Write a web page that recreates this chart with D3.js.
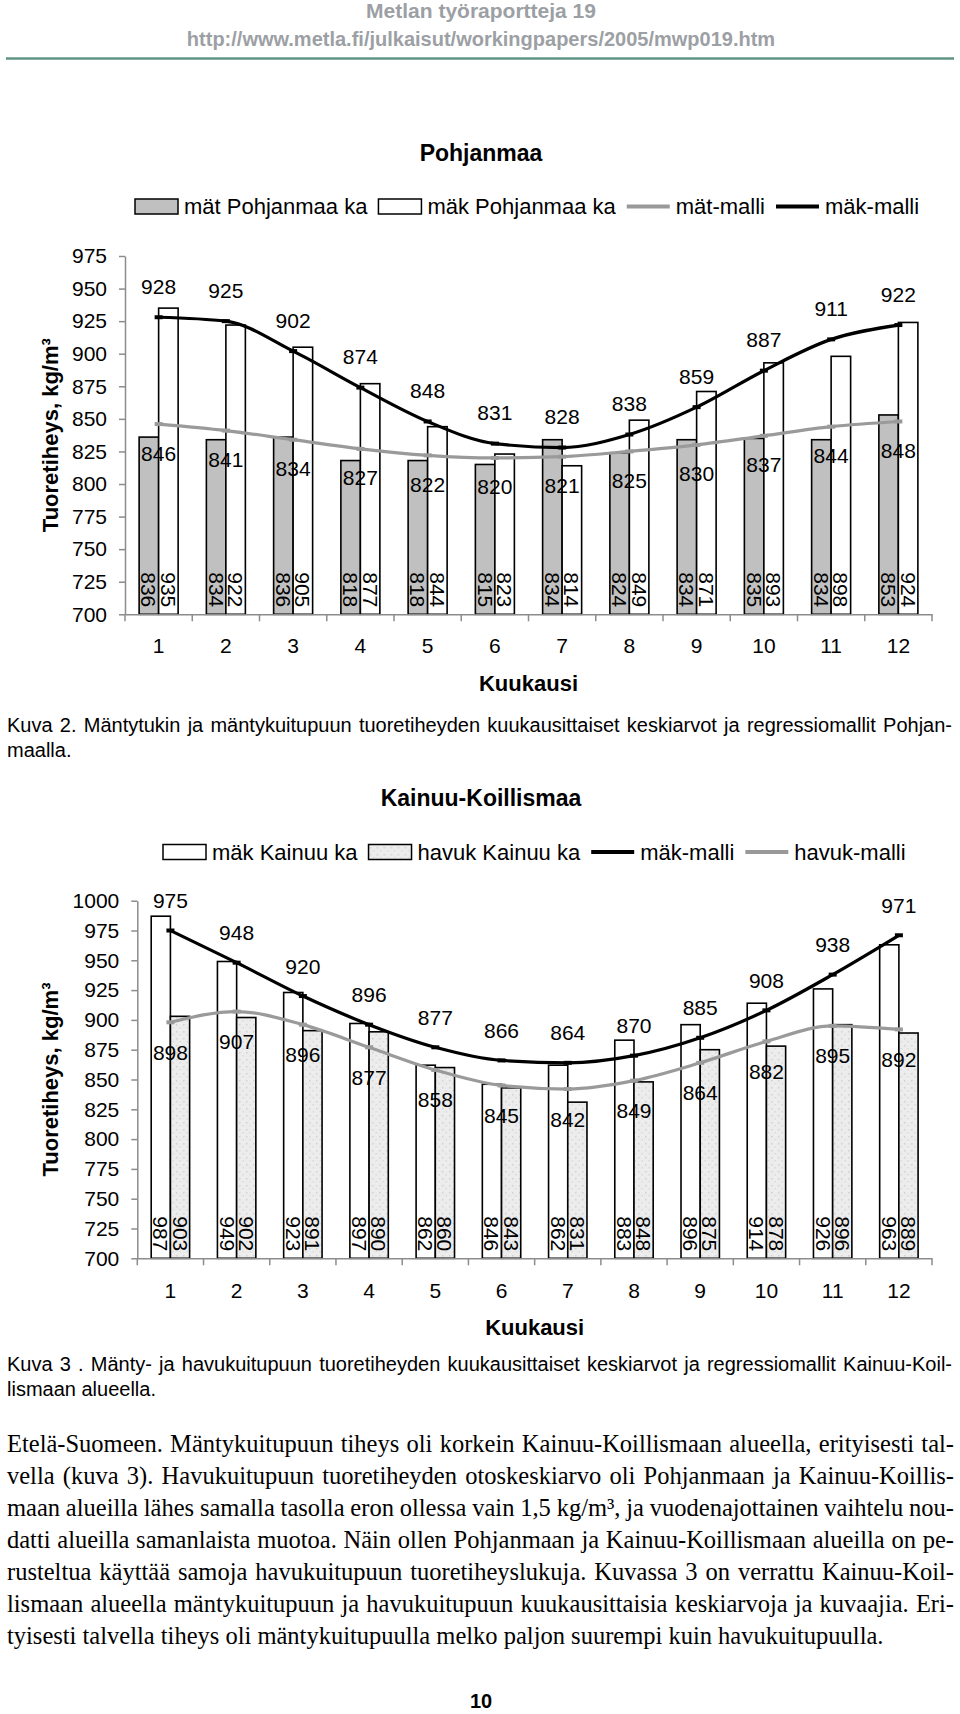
<!DOCTYPE html>
<html>
<head>
<meta charset="utf-8">
<script src="https://cdn.jsdelivr.net/npm/d3@7"></script>
<style>
  body { margin: 0; background: #fff; }
  svg text { font-family: 'Liberation Sans', Arial, sans-serif; }
</style>
</head>
<body>
<svg id="page" width="960" height="1714"></svg>
<script>
// data

let months = [1, 2, 3, 4, 5, 6, 7, 8, 9, 10, 11, 12]

// Pohjanmaa
let pohjMat = [836, 834, 836, 818, 818, 815, 834, 824, 834, 835, 834, 853]
let pohjMak = [935, 922, 905, 877, 844, 823, 814, 849, 871, 893, 898, 924]
let pohjMatModel = [846, 841, 834, 827, 822, 820, 821, 825, 830, 837, 844, 848]
let pohjMakModel = [928, 925, 902, 874, 848, 831, 828, 838, 859, 887, 911, 922]
let pohjTicks = [700, 725, 750, 775, 800, 825, 850, 875, 900, 925, 950, 975]

// Kainuu-Koillismaa
let kainMak = [987, 949, 923, 897, 862, 846, 862, 883, 896, 914, 926, 963]
let kainHavuk = [903, 902, 891, 890, 860, 843, 831, 848, 875, 878, 896, 889]
let kainMakModel = [975, 948, 920, 896, 877, 866, 864, 870, 885, 908, 938, 971]
let kainHavukModel = [898, 907, 896, 877, 858, 845, 842, 849, 864, 882, 895, 892]
let kainTicks = [700, 725, 750, 775, 800, 825, 850, 875, 900, 925, 950, 975, 1000]

let caption2 = [
  'Kuva 2. Mäntytukin ja mäntykuitupuun tuoretiheyden kuukausittaiset keskiarvot ja regressiomallit Pohjan-',
  'maalla.'
]
let caption3 = [
  'Kuva 3 . Mänty- ja havukuitupuun tuoretiheyden kuukausittaiset keskiarvot ja regressiomallit Kainuu-Koil-',
  'lismaan alueella.'
]
let bodyLines = [
  'Etelä-Suomeen. Mäntykuitupuun tiheys oli korkein Kainuu-Koillismaan alueella, erityisesti tal-',
  'vella (kuva 3). Havukuitupuun tuoretiheyden otoskeskiarvo oli Pohjanmaan ja Kainuu-Koillis-',
  'maan alueilla lähes samalla tasolla eron ollessa vain 1,5 kg/m³, ja vuodenajottainen vaihtelu nou-',
  'datti alueilla samanlaista muotoa. Näin ollen Pohjanmaan ja Kainuu-Koillismaan alueilla on pe-',
  'rusteltua käyttää samoja havukuitupuun tuoretiheyslukuja. Kuvassa 3 on verrattu Kainuu-Koil-',
  'lismaan alueella mäntykuitupuun ja havukuitupuun kuukausittaisia keskiarvoja ja kuvaajia. Eri-',
  'tyisesti talvella tiheys oli mäntykuitupuulla melko paljon suurempi kuin havukuitupuulla.'
]

let svg = d3.select('#page')

// stipple fill for havuk bars
let pat = svg
  .append('defs')
  .append('pattern')
  .attr('id', 'stipple')
  .attr('width', 7)
  .attr('height', 7)
  .attr('patternUnits', 'userSpaceOnUse')
pat.append('rect').attr('width', 7).attr('height', 7).attr('fill', '#ececec')
pat.append('rect').attr('x', 1).attr('y', 2).attr('width', 1.5).attr('height', 1.5).attr('fill', '#d2d2d2')
pat.append('rect').attr('x', 4.5).attr('y', 5).attr('width', 1.5).attr('height', 1.5).attr('fill', '#dadada')
pat.append('rect').attr('x', 5).attr('y', 0.5).attr('width', 1).attr('height', 1).attr('fill', '#f8f8f8')

// page header

svg
  .append('text')
  .attr('x', 481)
  .attr('y', 18)
  .attr('text-anchor', 'middle')
  .attr('font-size', 21)
  .attr('font-weight', 'bold')
  .attr('fill', '#9ca0a4')
  .text('Metlan työraportteja 19')

svg
  .append('text')
  .attr('x', 481)
  .attr('y', 46)
  .attr('text-anchor', 'middle')
  .attr('font-size', 20)
  .attr('font-weight', 'bold')
  .attr('fill', '#9ca0a4')
  .text('http://www.metla.fi/julkaisut/workingpapers/2005/mwp019.htm')

svg
  .append('line')
  .attr('x1', 6)
  .attr('x2', 954)
  .attr('y1', 58.5)
  .attr('y2', 58.5)
  .attr('stroke', '#5f9484')
  .attr('stroke-width', 2.5)

function drawChart(cfg) {
  let g = svg.append('g')

  let x = d3
    .scaleBand()
    .domain(months)
    .range([cfg.left, cfg.right])

  let y = d3
    .scaleLinear()
    .domain([700, cfg.max])
    .range([cfg.bottom, cfg.top])

  let pairW = x.bandwidth() * 0.58
  let inner = d3
    .scaleBand()
    .domain([0, 1])
    .range([0, pairW])

  let cx = m => x(m) + x.bandwidth() / 2

  // title + legend
  g.append('text')
    .attr('x', 481)
    .attr('y', cfg.titleY)
    .attr('text-anchor', 'middle')
    .attr('dominant-baseline', 'central')
    .attr('font-size', 23)
    .attr('font-weight', 'bold')
    .text(cfg.title)

  let lx = cfg.legendX
  cfg.legend.forEach(item => {
    let lg = g.append('g').attr('transform', `translate(${lx},${cfg.legendY})`)
    if (item.type === 'rect') {
      lg.append('rect')
        .attr('x', 0)
        .attr('y', -7.5)
        .attr('width', 43)
        .attr('height', 15)
        .attr('fill', item.fill)
        .attr('stroke', '#000')
        .attr('stroke-width', 1.5)
    } else {
      lg.append('line')
        .attr('x1', 0)
        .attr('x2', 43)
        .attr('stroke', item.color)
        .attr('stroke-width', 4)
    }
    let t = lg
      .append('text')
      .attr('x', 49)
      .attr('dominant-baseline', 'central')
      .attr('font-size', 22)
      .text(item.label)
    lx += 49 + t.node().getComputedTextLength() + 11
  })

  // bars
  cfg.bars.forEach((series, si) => {
    let bars = g
      .selectAll('.bar-' + si)
      .data(series.values)
      .enter()
      .append('g')

    bars
      .append('rect')
      .attr('x', (d, i) => cx(months[i]) - pairW / 2 + inner(si))
      .attr('y', d => y(d))
      .attr('width', inner.bandwidth())
      .attr('height', d => cfg.bottom - y(d))
      .attr('fill', series.fill)
      .attr('stroke', '#000')
      .attr('stroke-width', 1.6)

    bars
      .append('text')
      .attr('transform', (d, i) => {
        let bx = cx(months[i]) - pairW / 2 + inner(si) + inner.bandwidth() / 2
        return `translate(${bx},${cfg.bottom - 7}) rotate(90)`
      })
      .attr('text-anchor', 'end')
      .attr('dominant-baseline', 'central')
      .attr('font-size', 21)
      .text(d => d)
  })

  // axes
  let yAxis = g
    .append('g')
    .attr('transform', `translate(${cfg.left},0)`)
    .call(
      d3
        .axisLeft(y)
        .tickValues(cfg.ticks)
        .tickFormat(d3.format('d'))
        .tickSize(6)
        .tickPadding(12)
        .tickSizeOuter(0)
    )
  yAxis.select('.domain').attr('stroke', '#8c8c8c').attr('stroke-width', 1.5)
  yAxis.selectAll('.tick line').attr('stroke', '#8c8c8c').attr('stroke-width', 1.5)
  yAxis
    .selectAll('.tick text')
    .attr('font-size', 21)
    .attr('font-family', null)
    .attr('fill', '#000')

  let xAxis = g
    .append('g')
    .attr('transform', `translate(0,${cfg.bottom})`)
    .call(
      d3
        .axisBottom(x)
        .tickSize(0)
        .tickSizeOuter(0)
    )
  xAxis.select('.domain').attr('stroke', '#8c8c8c').attr('stroke-width', 1.5)
  xAxis
    .selectAll('.tick text')
    .attr('y', cfg.monthDy)
    .attr('dy', '0.35em')
    .attr('font-size', 21)
    .attr('font-family', null)
    .attr('fill', '#000')

  // category boundary ticks
  g.selectAll('.xtick')
    .data(months.map(m => x(m)).concat([cfg.right]))
    .enter()
    .append('line')
    .attr('x1', d => d)
    .attr('x2', d => d)
    .attr('y1', cfg.bottom)
    .attr('y2', cfg.bottom + 7)
    .attr('stroke', '#8c8c8c')
    .attr('stroke-width', 1.5)

  // model lines (smoothed like the Excel original, no overshoot)
  let line = d3
    .line()
    .x((d, i) => cx(months[i]))
    .y(d => y(d))
    .curve(d3.curveMonotoneX)

  cfg.lines.forEach(series => {
    g.append('path')
      .datum(series.values)
      .attr('d', line)
      .attr('fill', 'none')
      .attr('stroke', series.color)
      .attr('stroke-width', 3.2)

    g.selectAll(null)
      .data(series.values)
      .enter()
      .append('rect')
      .attr('x', (d, i) => cx(months[i]) - 4)
      .attr('y', d => y(d) - 2)
      .attr('width', 8)
      .attr('height', 4)
      .attr('fill', series.color)

    g.selectAll(null)
      .data(series.values)
      .enter()
      .append('text')
      .attr('x', (d, i) => cx(months[i]))
      .attr('y', d => y(d) + series.labelDy)
      .attr('text-anchor', 'middle')
      .attr('dominant-baseline', 'central')
      .attr('font-size', 21)
      .text(d => d)
  })

  // axis titles
  g.append('text')
    .attr('transform', `translate(50,${(cfg.top + cfg.bottom) / 2}) rotate(-90)`)
    .attr('text-anchor', 'middle')
    .attr('dominant-baseline', 'central')
    .attr('font-size', 22)
    .attr('font-weight', 'bold')
    .text('Tuoretiheys, kg/m³')

  g.append('text')
    .attr('x', (cfg.left + cfg.right) / 2)
    .attr('y', cfg.bottom + cfg.xTitleDy)
    .attr('text-anchor', 'middle')
    .attr('dominant-baseline', 'central')
    .attr('font-size', 22)
    .attr('font-weight', 'bold')
    .text('Kuukausi')
}

drawChart({
  title: 'Pohjanmaa',
  titleY: 153,
  legendX: 135,
  legendY: 206.5,
  legend: [
    { type: 'rect', fill: '#c0c0c0', label: 'mät Pohjanmaa ka' },
    { type: 'rect', fill: '#fff', label: 'mäk Pohjanmaa ka' },
    { type: 'line', color: '#999', label: 'mät-malli' },
    { type: 'line', color: '#000', label: 'mäk-malli' }
  ],
  left: 125,
  right: 932,
  top: 256,
  bottom: 614.3,
  max: 975,
  ticks: pohjTicks,
  monthDy: 31,
  xTitleDy: 69,
  bars: [
    { values: pohjMat, fill: '#c0c0c0' },
    { values: pohjMak, fill: '#fff' }
  ],
  lines: [
    { values: pohjMatModel, color: '#9a9a9a', labelDy: 29 },
    { values: pohjMakModel, color: '#000', labelDy: -31 }
  ]
})

drawChart({
  title: 'Kainuu-Koillismaa',
  titleY: 798,
  legendX: 163,
  legendY: 852,
  legend: [
    { type: 'rect', fill: '#fff', label: 'mäk Kainuu ka' },
    { type: 'rect', fill: 'url(#stipple)', label: 'havuk Kainuu ka' },
    { type: 'line', color: '#000', label: 'mäk-malli' },
    { type: 'line', color: '#999', label: 'havuk-malli' }
  ],
  left: 137.3,
  right: 932,
  top: 900.7,
  bottom: 1258.3,
  max: 1000,
  ticks: kainTicks,
  monthDy: 32,
  xTitleDy: 69,
  bars: [
    { values: kainMak, fill: '#fff' },
    { values: kainHavuk, fill: 'url(#stipple)' }
  ],
  lines: [
    { values: kainMakModel, color: '#000', labelDy: -30 },
    { values: kainHavukModel, color: '#9a9a9a', labelDy: 30 }
  ]
})

// justified text lines
function textBlock(lines, opts) {
  lines.forEach((txt, i) => {
    let t = svg
      .append('text')
      .attr('x', opts.x0)
      .attr('y', opts.y0 + i * opts.lineH)
      .attr('dominant-baseline', 'central')
      .attr('font-size', opts.size)
      .style('font-family', opts.family)
      .text(txt)
    if (i < lines.length - 1) {
      let natural = t.node().getComputedTextLength()
      let spaces = txt.split(' ').length - 1
      t.style('word-spacing', (opts.x1 - opts.x0 - natural) / spaces + 'px')
    }
  })
}

textBlock(caption2, { x0: 7, x1: 952, y0: 725, lineH: 25, size: 20, family: "'Liberation Sans', Arial, sans-serif" })
textBlock(caption3, { x0: 7, x1: 952, y0: 1364, lineH: 25, size: 20, family: "'Liberation Sans', Arial, sans-serif" })
textBlock(bodyLines, { x0: 7, x1: 954, y0: 1443, lineH: 32, size: 24.5, family: "'Liberation Serif', 'Times New Roman', serif" })

// page number
svg
  .append('text')
  .attr('x', 481)
  .attr('y', 1701)
  .attr('text-anchor', 'middle')
  .attr('dominant-baseline', 'central')
  .attr('font-size', 20)
  .attr('font-weight', 'bold')
  .text('10')
</script>
</body>
</html>
